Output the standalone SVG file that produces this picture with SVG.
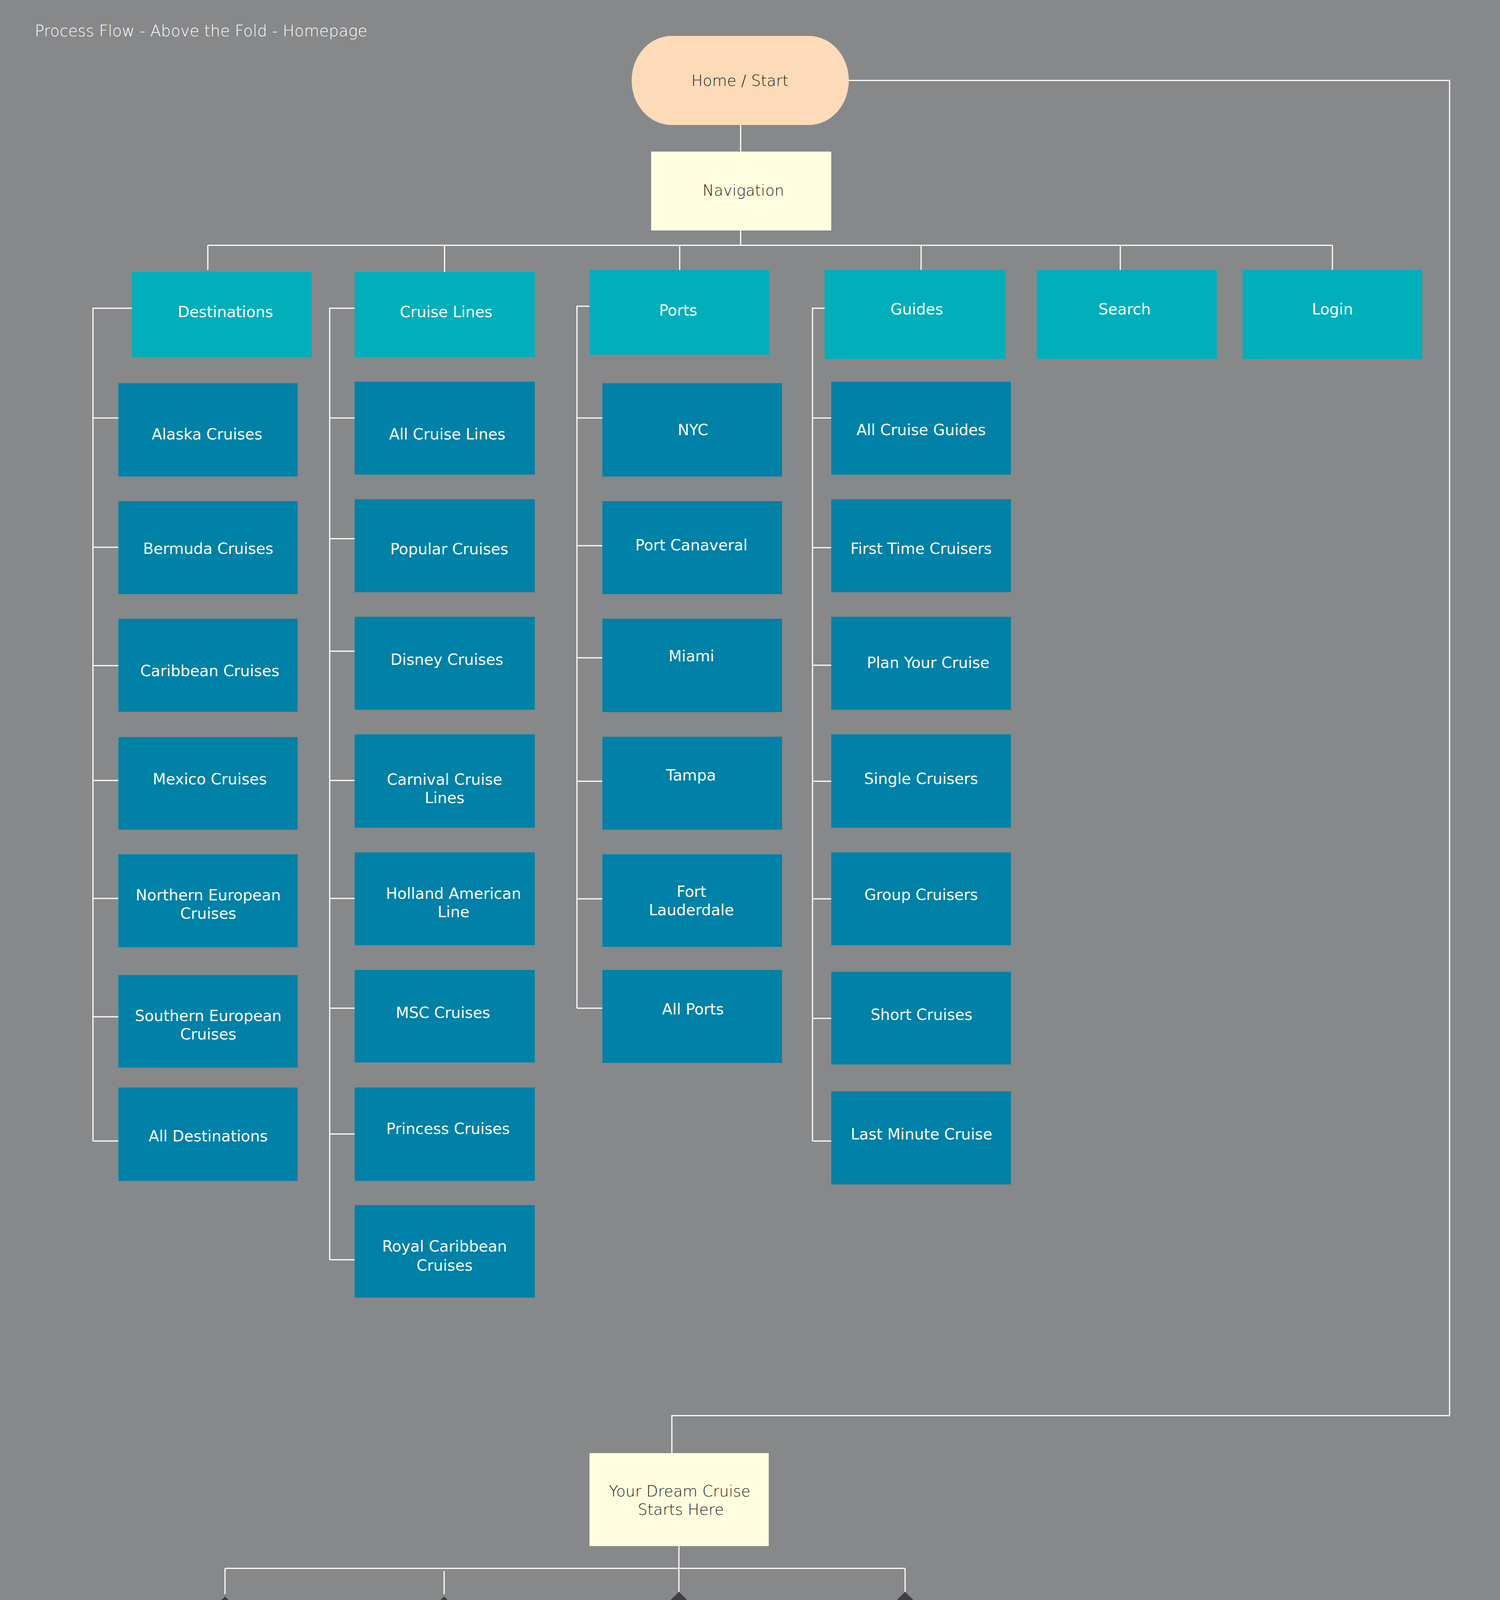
<svg xmlns="http://www.w3.org/2000/svg" width="3840" height="5286" viewBox="0 0 3840 5286">
<style>
.bg{fill:#87888a}
.term{fill:#fddbb9}
.cream{fill:#fefddf}
.top{fill:#00afba}
.sub{fill:#0081a7}
.dia{fill:#3f3f42}
.wire{fill:none;stroke:#ffffff;stroke-width:3}
text{font-family:"DejaVu Sans","Open Sans",sans-serif}
.lbl{font-size:39px;fill:#ffffff;text-anchor:middle}
.dark{font-size:39px;fill:#1e1e1e;text-anchor:middle;font-weight:200}
.dlbl{font-size:32px;fill:#ffffff;text-anchor:middle;letter-spacing:5px}
.title{font-size:40px;fill:#ffffff;font-weight:200}
</style>
<rect class="bg" x="0" y="0" width="3840" height="5286"/>
<text class="title" x="89" y="93">Process Flow - Above the Fold - Homepage</text>

<g id="connectors">
<path class="wire" d="M1896 320V388M1896 590V628M532 628H3411M532 628V691M1138 628V696M1740 628V691M2358 628V691M2868 628V691M3411 628V691"/>
<path class="wire" d="M338 789H238V2921M238 1070H303M238 1401H303M238 1704H303M238 1998H303M238 2300H303M238 2603H303M238 2921H303"/>
<path class="wire" d="M908 789H844V3225M844 1070H908M844 1379H908M844 1667H908M844 1998H908M844 2300H908M844 2581H908M844 2903H908M844 3225H908"/>
<path class="wire" d="M1509 784H1477V2581M1477 1070H1542M1477 1397H1542M1477 1684H1542M1477 2000H1542M1477 2301H1542M1477 2581H1542"/>
<path class="wire" d="M2111 789H2080V2921M2080 1070H2128M2080 1402H2128M2080 1703H2128M2080 2000H2128M2080 2301H2128M2080 2607H2128M2080 2921H2128"/>
<path class="wire" d="M2172 206H3711V3624H1720V3720"/>
<path class="wire" d="M1738 3958V4015M576 4015H2317M576 4015V4081M1137 4022V4081M1738 4015V4075M2317 4015V4075"/>
<path class="wire" d="M1391 4328H1483M1993 4328H2062M2571 4328H2985"/>
</g>

<g id="home"><rect class="term" x="1617" y="92" width="556" height="228" rx="102" ry="114"/><text class="dark" x="1894" y="220">Home / Start</text></g>
<g id="navigation"><rect class="cream" x="1667" y="388" width="461" height="202"/><text class="dark" x="1903" y="501" font-size="40">Navigation</text></g>

<g id="destinations"><rect class="top" x="338" y="696" width="460" height="218"/><text class="lbl" x="577" y="812">Destinations</text></g>
<g id="cruise-lines"><rect class="top" x="908" y="696" width="461" height="218"/><text class="lbl" x="1142" y="812">Cruise Lines</text></g>
<g id="ports"><rect class="top" x="1509" y="691" width="460" height="217"/><text class="lbl" x="1736" y="808">Ports</text></g>
<g id="guides"><rect class="top" x="2111" y="691" width="463" height="228"/><text class="lbl" x="2347" y="805">Guides</text></g>
<g id="search"><rect class="top" x="2654" y="691" width="461" height="228"/><text class="lbl" x="2879" y="805">Search</text></g>
<g id="login"><rect class="top" x="3181" y="691" width="460" height="228"/><text class="lbl" x="3411" y="805">Login</text></g>

<g id="alaska"><rect class="sub" x="303" y="981" width="459" height="239"/><text class="lbl" x="530" y="1125">Alaska Cruises</text></g>
<g id="bermuda"><rect class="sub" x="303" y="1283" width="459" height="238"/><text class="lbl" x="533" y="1418">Bermuda Cruises</text></g>
<g id="caribbean"><rect class="sub" x="303" y="1584" width="459" height="238"/><text class="lbl" x="537" y="1731">Caribbean Cruises</text></g>
<g id="mexico"><rect class="sub" x="303" y="1887" width="459" height="237"/><text class="lbl" x="537" y="2008">Mexico Cruises</text></g>
<g id="northern"><rect class="sub" x="303" y="2187" width="459" height="238"/><text class="lbl" x="533" y="2305">Northern European<tspan x="533" dy="47">Cruises</tspan></text></g>
<g id="southern"><rect class="sub" x="303" y="2496" width="459" height="237"/><text class="lbl" x="533" y="2614">Southern European<tspan x="533" dy="47">Cruises</tspan></text></g>
<g id="all-destinations"><rect class="sub" x="303" y="2784" width="459" height="239"/><text class="lbl" x="533" y="2922">All Destinations</text></g>

<g id="all-cruise-lines"><rect class="sub" x="908" y="977" width="461" height="238"/><text class="lbl" x="1145" y="1125">All Cruise Lines</text></g>
<g id="popular"><rect class="sub" x="908" y="1278" width="461" height="238"/><text class="lbl" x="1150" y="1419">Popular Cruises</text></g>
<g id="disney"><rect class="sub" x="908" y="1579" width="461" height="238"/><text class="lbl" x="1144" y="1702">Disney Cruises</text></g>
<g id="carnival"><rect class="sub" x="908" y="1880" width="461" height="239"/><text class="lbl" x="1138" y="2009">Carnival Cruise<tspan x="1138" dy="47">Lines</tspan></text></g>
<g id="holland"><rect class="sub" x="908" y="2182" width="461" height="238"/><text class="lbl" x="1161" y="2301">Holland American<tspan x="1161" dy="47">Line</tspan></text></g>
<g id="msc"><rect class="sub" x="908" y="2483" width="461" height="237"/><text class="lbl" x="1134" y="2606">MSC Cruises</text></g>
<g id="princess"><rect class="sub" x="908" y="2784" width="461" height="239"/><text class="lbl" x="1147" y="2903">Princess Cruises</text></g>
<g id="royal"><rect class="sub" x="908" y="3085" width="461" height="237"/><text class="lbl" x="1138" y="3204">Royal Caribbean<tspan x="1138" dy="49">Cruises</tspan></text></g>

<g id="nyc"><rect class="sub" x="1542" y="981" width="460" height="239"/><text class="lbl" x="1774" y="1114">NYC</text></g>
<g id="port-canaveral"><rect class="sub" x="1542" y="1283" width="460" height="238"/><text class="lbl" x="1770" y="1409">Port Canaveral</text></g>
<g id="miami"><rect class="sub" x="1542" y="1584" width="460" height="239"/><text class="lbl" x="1770" y="1693">Miami</text></g>
<g id="tampa"><rect class="sub" x="1542" y="1886" width="460" height="238"/><text class="lbl" x="1769" y="1998">Tampa</text></g>
<g id="fort-lauderdale"><rect class="sub" x="1542" y="2187" width="460" height="237"/><text class="lbl" x="1770" y="2296">Fort<tspan x="1770" dy="47">Lauderdale</tspan></text></g>
<g id="all-ports"><rect class="sub" x="1542" y="2483" width="460" height="238"/><text class="lbl" x="1774" y="2597">All Ports</text></g>

<g id="all-cruise-guides"><rect class="sub" x="2128" y="977" width="460" height="238"/><text class="lbl" x="2358" y="1114">All Cruise Guides</text></g>
<g id="first-time"><rect class="sub" x="2128" y="1278" width="460" height="238"/><text class="lbl" x="2358" y="1418">First Time Cruisers</text></g>
<g id="plan"><rect class="sub" x="2128" y="1579" width="460" height="238"/><text class="lbl" x="2376" y="1710">Plan Your Cruise</text></g>
<g id="single"><rect class="sub" x="2128" y="1880" width="460" height="239"/><text class="lbl" x="2358" y="2007">Single Cruisers</text></g>
<g id="group"><rect class="sub" x="2128" y="2182" width="460" height="238"/><text class="lbl" x="2358" y="2304">Group Cruisers</text></g>
<g id="short"><rect class="sub" x="2128" y="2488" width="460" height="237"/><text class="lbl" x="2359" y="2611">Short Cruises</text></g>
<g id="last-minute"><rect class="sub" x="2128" y="2794" width="460" height="238"/><text class="lbl" x="2359" y="2917">Last Minute Cruise</text></g>

<g id="dream"><rect class="cream" x="1509" y="3720" width="459" height="238"/><text class="dark" x="1740" y="3831" font-size="38">Your Dream Cruise<tspan x="1743" dy="47">Starts Here</tspan></text></g>

<g id="guests"><polygon class="dia" points="576,4087 831,4341 576,4596 321,4341"/><text class="dlbl" x="574" y="4334">Enter Number<tspan x="574" dy="38">of Guests</tspan></text></g>
<g id="destination"><polygon class="dia" points="1137,4087 1391,4341 1137,4596 882,4341"/><text class="dlbl" x="1141" y="4334">Pick your<tspan x="1141" dy="38">Destination</tspan></text></g>
<g id="month"><polygon class="dia" points="1738,4075 1993,4329 1738,4583 1483,4329"/><text class="dlbl" x="1742" y="4321">Pick your<tspan x="1742" dy="38">Month</tspan></text></g>
<g id="cruise-line"><polygon class="dia" points="2317,4075 2571,4329 2317,4583 2062,4329"/><text class="dlbl" x="2320" y="4321">Pick your<tspan x="2320" dy="38">Cruise Line</tspan></text></g>

<g id="submit"><rect class="term" x="2985" y="4214" width="553" height="228" rx="102" ry="114"/><text class="dark" x="3254" y="4341" font-size="40">Submit</text></g>
</svg>
